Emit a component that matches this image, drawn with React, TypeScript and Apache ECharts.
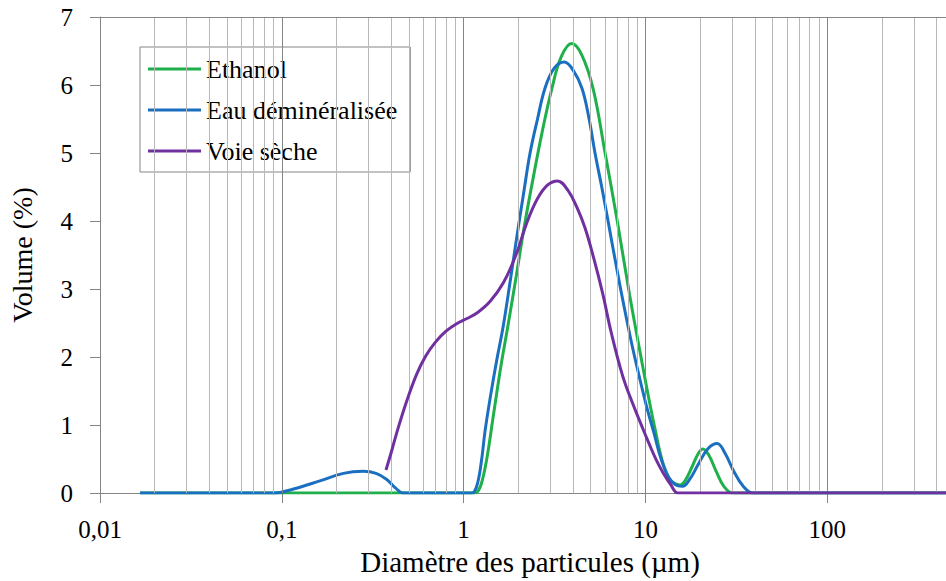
import React, { useEffect, useRef } from "react";
import * as echarts from "echarts";

// Diameter (µm), Volume (%)
const ethanol: [number, number][] = [
  [0.0166, 0], [0.1, 0], [0.5, 0], [1.0, 0], [1.12, 0], [1.2, 0.03], [1.27, 0.2],
  [1.35, 0.55], [1.45, 1.1], [1.6, 1.85], [1.75, 2.45], [1.95, 3.2], [2.15, 3.9],
  [2.4, 4.6], [2.7, 5.3], [3.06, 5.95], [3.45, 6.42], [3.93, 6.61], [4.45, 6.45],
  [5.15, 5.95], [6.0, 5.0], [7.0, 4.0], [8.2, 2.9], [9.3, 2.1], [10.0, 1.65],
  [10.6, 1.3], [11.3, 0.94], [12.3, 0.5], [13.5, 0.22], [14.5, 0.14], [15.5, 0.12],
  [16.5, 0.18], [18.0, 0.38], [19.5, 0.58], [20.7, 0.65], [22.3, 0.56], [24.5, 0.32],
  [27.0, 0.1], [30.3, 0], [40, 0], [450, 0],
];

const eau: [number, number][] = [
  [0.0166, 0], [0.09, 0], [0.116, 0.06], [0.162, 0.18], [0.218, 0.29], [0.28, 0.32],
  [0.33, 0.29], [0.378, 0.2], [0.42, 0.08], [0.467, 0], [0.6, 0], [1.0, 0], [1.11, 0],
  [1.18, 0.1], [1.25, 0.45], [1.31, 0.9], [1.4, 1.4], [1.52, 1.95], [1.65, 2.45],
  [1.8, 3.1], [1.97, 3.8], [2.15, 4.45], [2.32, 5.0], [2.55, 5.5], [2.8, 5.95],
  [3.15, 6.25], [3.58, 6.34], [4.0, 6.22], [4.48, 5.95], [4.9, 5.5], [5.28, 5.0],
  [5.75, 4.5], [6.23, 4.0], [6.9, 3.35], [7.62, 2.75], [8.4, 2.2], [9.33, 1.67],
  [10.2, 1.25], [11.1, 0.9], [12.2, 0.5], [13.5, 0.22], [15.0, 0.11], [16.0, 0.1],
  [17.5, 0.2], [19.5, 0.42], [22.0, 0.65], [24.8, 0.73], [27.5, 0.58], [30.5, 0.33],
  [34.5, 0.1], [39.1, 0], [50, 0], [450, 0],
];

const voieSeche: [number, number][] = [
  [0.374, 0.34], [0.4, 0.6], [0.429, 0.89], [0.486, 1.35], [0.552, 1.75], [0.62, 2.02],
  [0.7, 2.22], [0.8, 2.38], [0.915, 2.49], [1.05, 2.57], [1.2, 2.66], [1.4, 2.82],
  [1.66, 3.1], [1.94, 3.5], [2.23, 3.98], [2.55, 4.33], [2.9, 4.53], [3.29, 4.59],
  [3.75, 4.45], [4.2, 4.2], [4.65, 3.9], [5.2, 3.45], [5.8, 2.95], [6.5, 2.35],
  [7.5, 1.72], [8.5, 1.32], [9.5, 1.0], [10.5, 0.72], [11.5, 0.48], [12.5, 0.3],
  [13.8, 0.12], [15.1, 0], [20, 0], [450, 0],
];

const seriesNames = ["Ethanol", "Eau déminéralisée", "Voie sèche"];
const seriesColors = ["#1fb04c", "#1a6fc0", "#7030a0"];

const xTickValues = [0.01, 0.1, 1, 10, 100];
const yTickValues = [0, 1, 2, 3, 4, 5, 6, 7];
const majorGrid = [0.1, 1, 10, 100];
const minorGrid: number[] = [];
[0.01, 0.1, 1, 10, 100].forEach((d) => {
  for (let k = 2; k <= 9; k++) {
    const v = d * k;
    if (v < 450) minorGrid.push(v);
  }
});

const FONT = "'Liberation Serif', 'Times New Roman', serif";

export default function App() {
  const ref = useRef<HTMLDivElement>(null);
  useEffect(() => {
    if (!ref.current) return;
    const chart = echarts.init(ref.current, undefined, { renderer: "svg" });
    const gridLines = [
      ...minorGrid.map((v) => ({ xAxis: v, lineStyle: { color: "#b8b8b8", width: 1, type: "solid" } })),
      ...majorGrid.map((v) => ({ xAxis: v, lineStyle: { color: "#858585", width: 1, type: "solid" } })),
      { yAxis: 7, lineStyle: { color: "#858585", width: 1, type: "solid" } },
    ];
    const fmt = (v: number) => String(Number(Number(v).toPrecision(4))).replace(".", ",");
    chart.setOption({
      animation: false,
      backgroundColor: "#ffffff",
      grid: { left: 100, right: 0, top: 17, bottom: 87 },
      legend: {
        left: 140,
        top: 47,
        orient: "vertical",
        backgroundColor: "#ffffff",
        borderColor: "#858585",
        borderWidth: 1,
        padding: [9, 13, 8, 8],
        itemGap: 15,
        itemWidth: 53,
        itemHeight: 3,
        icon: "rect",
        textStyle: { fontFamily: FONT, fontSize: 26, color: "#000000" },
        data: seriesNames,
      },
      xAxis: {
        type: "log",
        logBase: 10,
        min: 0.01,
        max: 450,
        name: "Diamètre des particules (µm)",
        nameLocation: "middle",
        nameGap: 51,
        nameTextStyle: { fontFamily: FONT, fontSize: 29, color: "#000000", padding: [0, 0, 0, 14] },
        axisLine: { show: true, onZero: false, lineStyle: { color: "#858585", width: 1 } },
        axisTick: { show: true, length: 10, lineStyle: { color: "#858585" }, customValues: xTickValues },
        axisLabel: {
          fontFamily: FONT,
          fontSize: 25,
          color: "#000000",
          margin: 24,
          formatter: fmt,
          customValues: xTickValues,
        },
        splitLine: { show: false },
        minorTick: { show: false },
      },
      yAxis: {
        type: "value",
        min: 0,
        max: 7,
        interval: 1,
        name: "Volume (%)",
        nameLocation: "middle",
        nameGap: 64,
        nameTextStyle: { fontFamily: FONT, fontSize: 28, color: "#000000" },
        axisLine: { show: true, lineStyle: { color: "#858585", width: 1 } },
        axisTick: { show: true, length: 10, lineStyle: { color: "#858585" } },
        axisLabel: { fontFamily: FONT, fontSize: 25, color: "#000000", margin: 27, customValues: yTickValues },
        splitLine: { show: false },
      },
      series: [
        {
          type: "line",
          name: "__grid",
          data: [],
          z: 1,
          silent: true,
          markLine: {
            silent: true,
            symbol: ["none", "none"],
            label: { show: false },
            animation: false,
            data: gridLines,
          },
        },
        ...[ethanol, eau, voieSeche].map((d, i) => ({
          type: "line",
          name: seriesNames[i],
          data: d,
          z: 3 + i,
          smooth: 0.4,
          symbol: "none",
          showSymbol: false,
          color: seriesColors[i],
          itemStyle: { color: seriesColors[i] },
          lineStyle: { color: seriesColors[i], width: 3 },
        })),
      ],
    });
    return () => chart.dispose();
  }, []);
  return (
    <div
      ref={ref}
      style={{ position: "absolute", left: 0, top: 0, width: 946, height: 581 }}
    />
  );
}
